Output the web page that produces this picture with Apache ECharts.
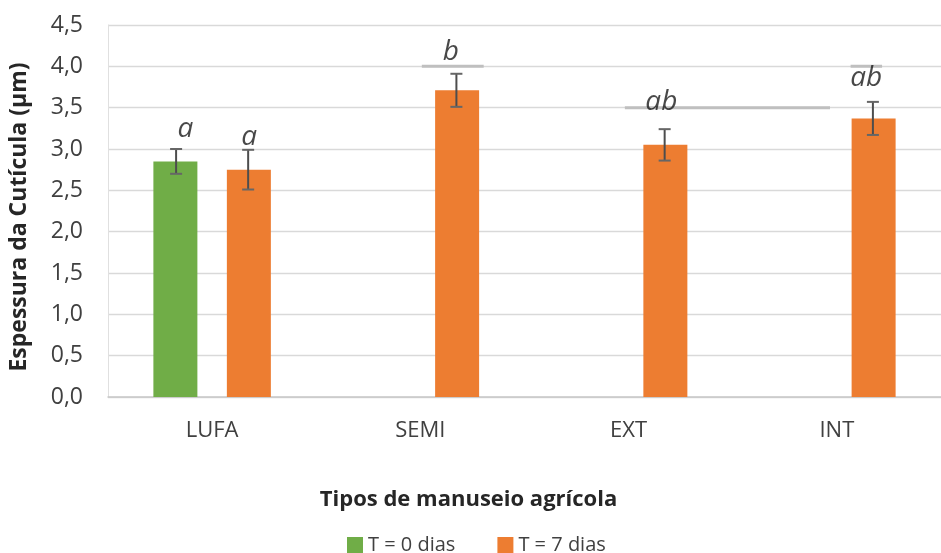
<!DOCTYPE html>
<html>
<head>
<meta charset="utf-8">
<script src="https://cdn.jsdelivr.net/npm/echarts@6/dist/echarts.min.js"></script>
<style>
  html, body { margin: 0; padding: 0; background: #fff; }
  #chart { width: 941px; height: 553px; }
</style>
</head>
<body>
<div id="chart"></div>
<script>
// Cuticle thickness by handling type
const categories = ['LUFA', 'SEMI', 'EXT', 'INT'];
const seriesNames = ['T = 0 dias', 'T = 7 dias'];
const t0Values = [2.85, null, null, null];
const t0Errors = [0.15, null, null, null];
const t7Values = [2.75, 3.71, 3.05, 3.37];
const t7Errors = [0.24, 0.20, 0.19, 0.20];
const yTicks = [0, 0.5, 1.0, 1.5, 2.0, 2.5, 3.0, 3.5, 4.0, 4.5];

// Significance letters (x in category units along the axis, y in µm)
const letterText = ['a', 'a', 'b', 'ab', 'ab'];
const letterX = [0.372, 0.678, 1.646, 2.657, 3.641];
const letterY = [3.24, 3.15, 4.17, 3.57, 3.86];

// Grouping bars: [xStart, xEnd, level] in category units
const groupLines = [
  [1.507, 1.804, 4.0],
  [2.482, 3.467, 3.5],
  [3.566, 3.717, 4.0]
];

const colors = ['#70AD47', '#ED7D31'];
const fontFamily = '"Open Sans", "Noto Sans", sans-serif';

const errorData = [];
t0Values.forEach((v, i) => {
  if (v != null) errorData.push([i, v - t0Errors[i], v + t0Errors[i], -1]);
});
t7Values.forEach((v, i) => {
  if (v != null) errorData.push([i, v - t7Errors[i], v + t7Errors[i], 1]);
});

const chart = echarts.init(document.getElementById('chart'));
chart.setOption({
  animation: false,
  backgroundColor: '#ffffff',
  textStyle: { fontFamily: fontFamily },
  grid: { left: 103, top: 25, width: 849, height: 372, containLabel: false },
  legend: {
    data: seriesNames,
    bottom: -7,
    left: 342,
    icon: 'rect',
    itemWidth: 16,
    itemHeight: 16,
    itemGap: 42,
    textStyle: { fontSize: 20, color: '#404040', fontFamily: fontFamily }
  },
  xAxis: [
    {
      type: 'category',
      data: categories,
      axisTick: { show: false },
      axisLine: { lineStyle: { color: '#C8C8C8', width: 1.5 } },
      axisLabel: { fontSize: 22, color: '#404040', margin: 23 },
      name: 'Tipos de manuseio agrícola',
      nameLocation: 'middle',
      nameGap: 92,
      nameTextStyle: { fontSize: 22, fontWeight: 'bold', color: '#262626', padding: [0, 112, 0, 0] }
    },
    {
      type: 'value',
      min: 0,
      max: 4,
      show: false
    }
  ],
  yAxis: {
    type: 'value',
    min: yTicks[0],
    max: yTicks[yTicks.length - 1],
    interval: 0.5,
    axisLine: { show: true, lineStyle: { color: '#E0E0E0', width: 1 } },
    axisTick: { show: false },
    splitLine: { lineStyle: { color: '#D9D9D9', width: 1.3 } },
    axisLabel: {
      fontSize: 23,
      color: '#404040',
      margin: 25,
      formatter: v => v.toFixed(1).replace('.', ',')
    },
    name: 'Espessura da Cutícula (µm)',
    nameLocation: 'middle',
    nameGap: 77,
    nameRotate: 90,
    nameTextStyle: { fontSize: 23, fontWeight: 'bold', color: '#262626', padding: [0, 0, 0, -12] }
  },
  series: [
    {
      name: seriesNames[0],
      type: 'bar',
      data: t0Values,
      barWidth: 44,
      barGap: '67%',
      itemStyle: { color: colors[0] }
    },
    {
      name: seriesNames[1],
      type: 'bar',
      data: t7Values,
      barWidth: 44,
      barGap: '67%',
      itemStyle: { color: colors[1] }
    },
    {
      name: 'grouping',
      type: 'custom',
      xAxisIndex: 1,
      data: groupLines,
      z: 1,
      renderItem: (params, api) => {
        const p1 = api.coord([api.value(0), api.value(2)]);
        const p2 = api.coord([api.value(1), api.value(2)]);
        return {
          type: 'line',
          shape: { x1: p1[0], y1: p1[1], x2: p2[0], y2: p2[1] },
          style: { stroke: '#BFBFBF', lineWidth: 3 }
        };
      }
    },
    {
      name: 'error',
      type: 'custom',
      xAxisIndex: 0,
      data: errorData,
      z: 5,
      renderItem: (params, api) => {
        const cat = api.value(0);
        const side = api.value(3);
        const band = api.size([1, 0])[0];
        const lo = api.coord([cat, api.value(1)]);
        const hi = api.coord([cat, api.value(2)]);
        const x = lo[0] + side * band * 0.173;
        const cap = 6;
        const stem = { stroke: '#4D4D4D', lineWidth: 2 };
        const capStyle = { stroke: '#666666', lineWidth: 2 };
        return {
          type: 'group',
          children: [
            { type: 'line', shape: { x1: x, y1: hi[1], x2: x, y2: lo[1] }, style: stem },
            { type: 'line', shape: { x1: x - cap, y1: hi[1], x2: x + cap, y2: hi[1] }, style: capStyle },
            { type: 'line', shape: { x1: x - cap, y1: lo[1], x2: x + cap, y2: lo[1] }, style: capStyle }
          ]
        };
      }
    },
    {
      name: 'letters',
      type: 'scatter',
      xAxisIndex: 1,
      symbolSize: 0,
      data: letterX.map((x, i) => [x, letterY[i]]),
      z: 6,
      label: {
        show: true,
        position: 'inside',
        formatter: p => letterText[p.dataIndex],
        fontSize: 28,
        fontStyle: 'italic',
        fontWeight: 500,
        color: '#1A1A1A',
        fontFamily: fontFamily
      }
    }
  ]
});
</script>
</body>
</html>
